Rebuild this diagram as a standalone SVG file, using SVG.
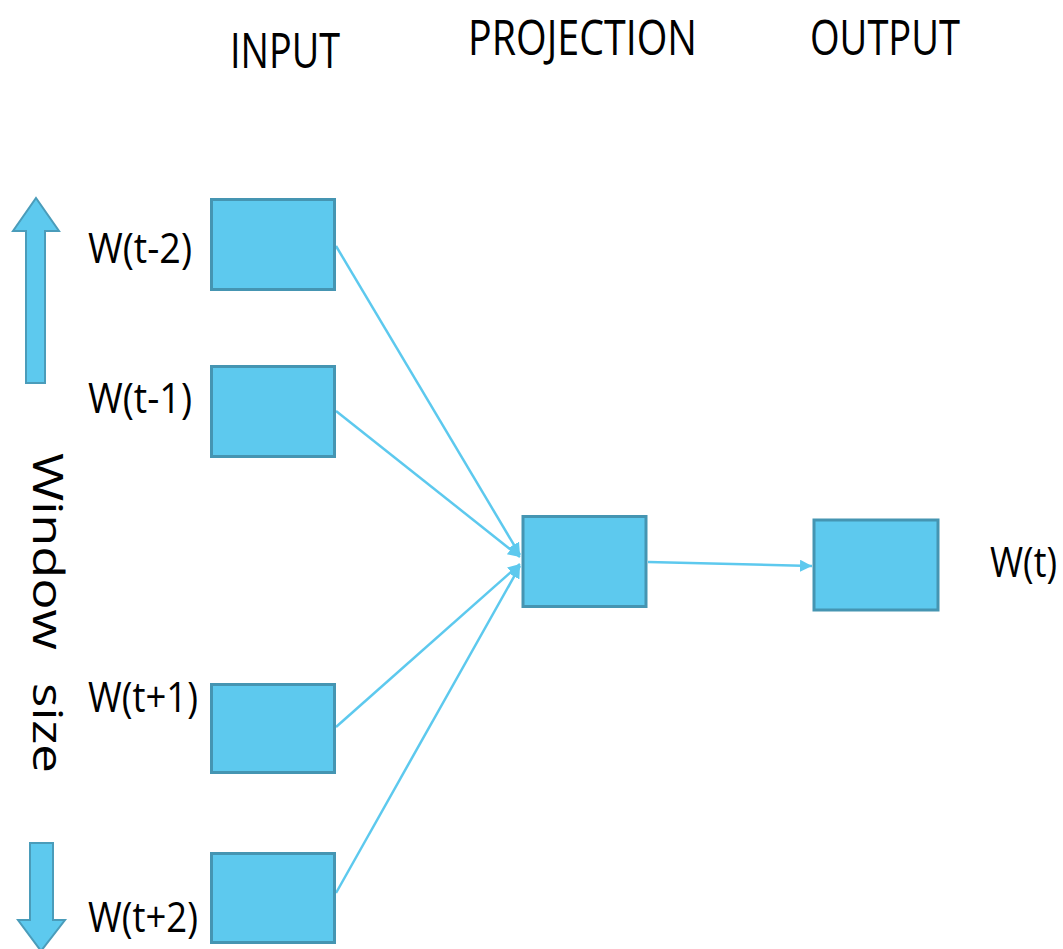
<svg xmlns="http://www.w3.org/2000/svg" width="1063" height="949" viewBox="0 0 1063 949">
  <style>
    .box { fill: #5DC9EE; stroke: #4595B2; stroke-width: 3; }
    .big-arrow { fill: #5DC9EE; stroke: #4A9CBA; stroke-width: 2; stroke-linejoin: miter; }
    .link { stroke: #5DC9EE; stroke-width: 2.5; fill: none; }
    .hdr { font-family: "Open Sans", "DejaVu Sans", sans-serif; font-size: 49px; fill: #000; }
    .lbl { font-family: "Open Sans", "DejaVu Sans", sans-serif; font-size: 42px; fill: #000; }
  </style>
  <defs>
    <marker id="tip" markerUnits="userSpaceOnUse" markerWidth="14" markerHeight="14" refX="12" refY="6" orient="auto">
      <path d="M0,0 L12,6 L0,12 Z" fill="#5DC9EE"/>
    </marker>
  </defs>
  <rect width="1063" height="949" fill="#FFFFFF"/>

  <!-- column headings -->
  <g id="headings">
    <text class="hdr" x="230" y="68" textLength="110" lengthAdjust="spacingAndGlyphs">INPUT</text>
    <text class="hdr" x="468" y="55" textLength="229" lengthAdjust="spacingAndGlyphs">PROJECTION</text>
    <text class="hdr" x="810" y="55" textLength="150" lengthAdjust="spacingAndGlyphs">OUTPUT</text>
  </g>

  <!-- window size indicator -->
  <g id="window-size">
    <polygon class="big-arrow" points="36,198 59,231 45,231 45,383 26,383 26,231 13,231"/>
    <polygon class="big-arrow" points="30,843 53,843 53,920 65,920 41,951 18,920 30,920"/>
    <text class="lbl" transform="translate(33,453) rotate(90)" textLength="197" lengthAdjust="spacingAndGlyphs">Window</text>
    <text class="lbl" transform="translate(33,683) rotate(90)" textLength="90" lengthAdjust="spacingAndGlyphs">size</text>
  </g>

  <!-- connectors -->
  <g id="connectors">
    <line class="link" x1="336" y1="246" x2="520" y2="555" marker-end="url(#tip)"/>
    <line class="link" x1="336" y1="411" x2="520" y2="557" marker-end="url(#tip)"/>
    <line class="link" x1="336" y1="727" x2="520" y2="564" marker-end="url(#tip)"/>
    <line class="link" x1="336" y1="893" x2="520" y2="566" marker-end="url(#tip)"/>
    <line class="link" x1="648" y1="562" x2="812" y2="566" marker-end="url(#tip)"/>
  </g>

  <!-- input nodes -->
  <g id="input-t-2">
    <rect class="box" x="211.5" y="199.5" width="123" height="90"/>
    <text class="lbl" x="88" y="263" textLength="104" lengthAdjust="spacingAndGlyphs">W(t-2)</text>
  </g>
  <g id="input-t-1">
    <rect class="box" x="211.5" y="366.5" width="123" height="90"/>
    <text class="lbl" x="88" y="413" textLength="104" lengthAdjust="spacingAndGlyphs">W(t-1)</text>
  </g>
  <g id="input-t+1">
    <rect class="box" x="211.5" y="684.5" width="123" height="88"/>
    <text class="lbl" x="88" y="712" textLength="110" lengthAdjust="spacingAndGlyphs">W(t+1)</text>
  </g>
  <g id="input-t+2">
    <rect class="box" x="211.5" y="853.5" width="123" height="89"/>
    <text class="lbl" x="88" y="932" textLength="110" lengthAdjust="spacingAndGlyphs">W(t+2)</text>
  </g>

  <!-- projection node -->
  <g id="projection">
    <rect class="box" x="523" y="516.5" width="123" height="90"/>
  </g>

  <!-- output node -->
  <g id="output">
    <rect class="box" x="814" y="520" width="124" height="90"/>
    <text class="lbl" x="990" y="577" textLength="67" lengthAdjust="spacingAndGlyphs">W(t)</text>
  </g>
</svg>
